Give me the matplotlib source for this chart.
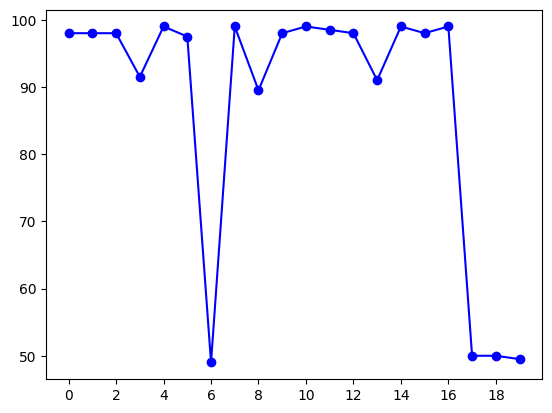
import matplotlib
matplotlib.use("Agg")
import matplotlib.pyplot as plt

# values
x = list(range(20))
y = [98, 98, 98, 91.5, 99, 97.5, 49, 99, 89.5, 98,
     99, 98.5, 98, 91, 99, 98, 99, 50, 50, 49.5]

fig = plt.figure(figsize=(6.4, 4.8))
ax = fig.add_subplot(111)
ax.plot(x, y, 'bo-')  # blue line with round markers
ax.set_xticks(range(0, 20, 2))

fig.savefig("out.png", dpi=100, bbox_inches='tight')
